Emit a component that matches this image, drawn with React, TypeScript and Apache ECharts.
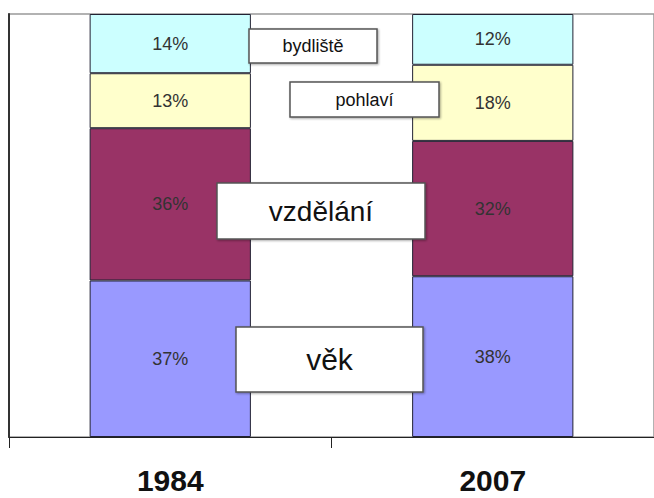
import React, { useEffect, useRef } from "react";
import * as echarts from "echarts";

const categories = ["1984", "2007"];
const seriesNames = ["věk", "vzdělání", "pohlaví", "bydliště"];
const vekValues = [37, 38];
const vzdelaniValues = [36, 32];
const pohlaviValues = [13, 18];
const bydlisteValues = [14, 12];
const seriesColors = ["#9999FF", "#993366", "#FFFFCC", "#CCFFFF"];

const FONT = "Arial, 'Liberation Sans', sans-serif";

export default function App() {
  const ref = useRef<HTMLDivElement>(null);
  useEffect(() => {
    if (!ref.current) return;
    const chart = echarts.init(ref.current, null, { renderer: "svg" });
    const values = [vekValues, vzdelaniValues, pohlaviValues, bydlisteValues];
    const boxes = [
      { x: 236, y: 327, w: 187, h: 65, fs: 30 },
      { x: 217, y: 183, w: 208, h: 56, fs: 28 },
      { x: 290, y: 82, w: 149, h: 35, fs: 18 },
      { x: 249, y: 29, w: 128, h: 34, fs: 18 },
    ];
    const graphic: any[] = [];
    boxes.forEach((b, i) => {
      graphic.push({
        type: "rect",
        z: 100,
        shape: { x: b.x, y: b.y, width: b.w, height: b.h },
        style: {
          fill: "#ffffff",
          stroke: "#555555",
          lineWidth: 1.5,
          shadowColor: "rgba(0,0,0,0.35)",
          shadowBlur: 2,
          shadowOffsetX: 1,
          shadowOffsetY: 1,
        },
      });
      graphic.push({
        type: "text",
        z: 101,
        x: b.x + b.w / 2,
        y: b.y + b.h / 2,
        style: {
          text: seriesNames[i],
          fill: "#111111",
          font: `${b.fs}px ${FONT}`,
          align: "center",
          verticalAlign: "middle",
        },
      });
    });
    chart.setOption({
      animation: false,
      backgroundColor: "#ffffff",
      grid: {
        left: 9,
        top: 14,
        width: 652,
        height: 423,
        show: true,
        borderColor: "#999999",
        borderWidth: 1.5,
        backgroundColor: "transparent",
      },
      xAxis: {
        type: "category",
        data: categories,
        axisLine: { show: true, lineStyle: { color: "#222222", width: 1 } },
        axisTick: { show: true, length: 11, lineStyle: { color: "#222222", width: 1 } },
        axisLabel: {
          color: "#111111",
          fontSize: 30,
          fontWeight: "bold",
          fontFamily: FONT,
          margin: 28,
        },
      },
      yAxis: {
        type: "value",
        min: 0,
        max: 100,
        axisLine: { show: true, lineStyle: { color: "#333333", width: 2 } },
        axisTick: { show: false },
        axisLabel: { show: false },
        splitLine: { show: false },
      },
      series: seriesNames.map((name, i) => ({
        name,
        type: "bar",
        stack: "total",
        barWidth: "50%",
        data: values[i],
        itemStyle: { color: seriesColors[i], borderColor: "#222233", borderWidth: 1 },
        label: {
          show: true,
          position: "inside",
          formatter: "{c}%",
          color: "#333333",
          fontSize: 18,
          fontFamily: FONT,
        },
      })),
      graphic,
    });
    return () => chart.dispose();
  }, []);
  return (
    <div
      ref={ref}
      style={{ position: "fixed", left: 0, top: 0, width: 654, height: 498 }}
    />
  );
}
